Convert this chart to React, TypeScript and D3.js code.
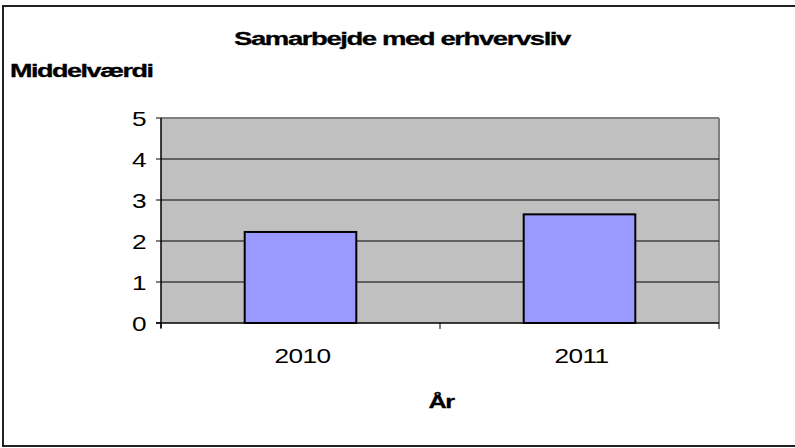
import React from 'react';
import * as d3 from 'd3';

// data
const years = ['2010', '2011'];
const meanValues = [2.22, 2.65];
const yTicks = [0, 1, 2, 3, 4, 5];

const W = 795;
const H = 448;
const plot = { left: 161, right: 719, top: 118, bottom: 323 };
const font = '"Liberation Sans", Arial, sans-serif';

// the original text is drawn horizontally stretched with tight spacing
const SText = ({ x, y, anchor = 'start', size, bold = false, sx = 1.25, ls = -0.5, children }: any) => (
    <text
        transform={`translate(${x},${y}) scale(${sx},1)`}
        textAnchor={anchor}
        fontFamily={font}
        fontSize={size}
        fontWeight={bold ? 'bold' : 'normal'}
        letterSpacing={ls}
        fill="#000"
        stroke={bold ? '#000' : 'none'}
        strokeWidth={bold ? 0.3 : 0}
    >
        {children}
    </text>
);

const App = () => {
    const y = d3.scaleLinear().domain([0, 5]).range([plot.bottom, plot.top]);
    const x = d3
        .scaleBand()
        .domain(years)
        .range([plot.left, plot.right])
        .paddingInner(0.6)
        .paddingOuter(0.3);

    const step = x.step();
    const boundaries = d3.range(years.length + 1).map(i => plot.left + i * step);

    return (
        <svg
            width={W}
            height={H}
            style={{ position: 'absolute', left: 0, top: 0, background: '#fff' }}
        >
            {/* outer frame, right side runs off the picture */}
            <rect x={3} y={6} width={W + 10} height={440} fill="#fff" stroke="#222" strokeWidth={2} />

            {/* plot area */}
            <rect
                x={plot.left}
                y={plot.top}
                width={plot.right - plot.left}
                height={plot.bottom - plot.top}
                fill="#c0c0c0"
            />
            <line x1={plot.left} x2={plot.right} y1={plot.top} y2={plot.top} stroke="#808080" strokeWidth={2} />
            <line x1={plot.right} x2={plot.right} y1={plot.top} y2={plot.bottom} stroke="#808080" strokeWidth={2} />

            {/* gridlines */}
            {yTicks.filter(t => t > 0 && t < 5).map(t => (
                <line
                    key={t}
                    x1={plot.left}
                    x2={plot.right}
                    y1={y(t)}
                    y2={y(t)}
                    stroke="#000"
                    strokeWidth={1}
                />
            ))}

            {/* bars */}
            {years.map((yr, i) => (
                <rect
                    key={yr}
                    x={x(yr)}
                    y={y(meanValues[i])}
                    width={x.bandwidth()}
                    height={y(0) - y(meanValues[i])}
                    fill="#9999ff"
                    stroke="#000"
                    strokeWidth={2}
                />
            ))}

            {/* y axis */}
            <line x1={plot.left} x2={plot.left} y1={plot.top} y2={plot.bottom + 5} stroke="#000" strokeWidth={1.5} />
            {yTicks.map(t => (
                <g key={t}>
                    <line x1={plot.left - 5} x2={plot.left} y1={y(t)} y2={y(t)} stroke="#000" strokeWidth={1} />
                    <SText x={146} y={y(t) + 7.5} anchor="end" size={21}>
                        {t}
                    </SText>
                </g>
            ))}

            {/* x axis */}
            <line x1={plot.left - 5} x2={plot.right} y1={plot.bottom} y2={plot.bottom} stroke="#000" strokeWidth={1.5} />
            {boundaries.map((b, i) => (
                <line key={i} x1={b} x2={b} y1={plot.bottom} y2={plot.bottom + 6} stroke="#000" strokeWidth={1} />
            ))}
            {years.map(yr => (
                <SText key={yr} x={(x(yr) as number) + x.bandwidth() / 2 + 2} y={363} anchor="middle" size={21}>
                    {yr}
                </SText>
            ))}

            {/* titles */}
            <SText x={402} y={45} anchor="middle" size={19} bold sx={1.45} ls={-1}>
                Samarbejde med erhvervsliv
            </SText>
            <SText x={10} y={77} size={18} bold sx={1.5} ls={-1}>
                Middelværdi
            </SText>
            <SText x={441} y={408} anchor="middle" size={18} bold sx={1.4} ls={-1}>
                År
            </SText>
        </svg>
    );
};

export default App;
